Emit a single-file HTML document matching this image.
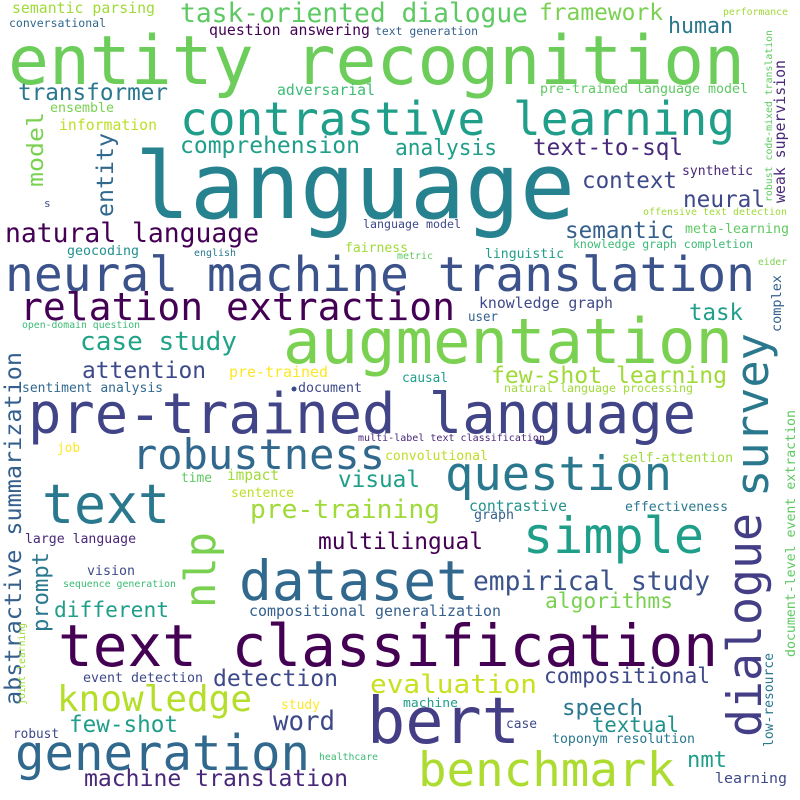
<!DOCTYPE html>
<html><head><meta charset="utf-8"><style>
html,body{margin:0;padding:0;background:#fff;}
svg{display:block;}
text{font-family:"DejaVu Sans Mono","Liberation Mono",monospace;}
</style></head><body>
<svg width="800" height="800" viewBox="0 0 800 800" xmlns="http://www.w3.org/2000/svg">
<rect width="800" height="800" fill="#fff"/>
<g lengthAdjust="spacingAndGlyphs">
<text x="12" y="13" font-size="15" fill="#a0da39" textLength="143" lengthAdjust="spacingAndGlyphs">semantic parsing</text>
<text x="9" y="27" font-size="11.5" fill="#31688e" textLength="97" lengthAdjust="spacingAndGlyphs">conversational</text>
<text x="180" y="22" font-size="26.5" fill="#5ec962" textLength="348" lengthAdjust="spacingAndGlyphs">task-oriented dialogue</text>
<text x="539" y="20" font-size="23" fill="#7ad151" textLength="124" lengthAdjust="spacingAndGlyphs">framework</text>
<text x="723" y="15" font-size="10" fill="#a0da39" textLength="65" lengthAdjust="spacingAndGlyphs">performance</text>
<text x="209" y="35" font-size="15" fill="#440154" textLength="161" lengthAdjust="spacingAndGlyphs">question answering</text>
<text x="375" y="35" font-size="11.5" fill="#35608d" textLength="103" lengthAdjust="spacingAndGlyphs">text generation</text>
<text x="668" y="33" font-size="22" fill="#2a788e" textLength="65" lengthAdjust="spacingAndGlyphs">human</text>
<text x="8" y="84" font-size="68" fill="#6ccd5a" textLength="737" lengthAdjust="spacingAndGlyphs">entity recognition</text>
<text x="540" y="93" font-size="13.5" fill="#5ec962" textLength="208" lengthAdjust="spacingAndGlyphs">pre-trained language model</text>
<text x="277" y="95" font-size="15" fill="#3cbb75" textLength="98" lengthAdjust="spacingAndGlyphs">adversarial</text>
<text x="18" y="100" font-size="23" fill="#2a788e" textLength="150" lengthAdjust="spacingAndGlyphs">transformer</text>
<text x="50" y="112" font-size="13" fill="#7ad151" textLength="64" lengthAdjust="spacingAndGlyphs">ensemble</text>
<text x="59" y="130" font-size="15" fill="#bddf26" textLength="98" lengthAdjust="spacingAndGlyphs">information</text>
<text x="180" y="135" font-size="46" fill="#1f9e89" textLength="555" lengthAdjust="spacingAndGlyphs">contrastive learning</text>
<text x="180" y="153" font-size="23" fill="#1f9e89" textLength="180" lengthAdjust="spacingAndGlyphs">comprehension</text>
<text x="395" y="155" font-size="22" fill="#1f9e89" textLength="102" lengthAdjust="spacingAndGlyphs">analysis</text>
<text x="533" y="155" font-size="23" fill="#482878" textLength="150" lengthAdjust="spacingAndGlyphs">text-to-sql</text>
<text x="682" y="175" font-size="13" fill="#482878" textLength="71" lengthAdjust="spacingAndGlyphs">synthetic</text>
<text x="582" y="188" font-size="23" fill="#3e4989" textLength="95" lengthAdjust="spacingAndGlyphs">context</text>
<text x="683" y="207" font-size="23" fill="#3e4989" textLength="82" lengthAdjust="spacingAndGlyphs">neural</text>
<text x="44" y="207" font-size="11" fill="#3e4989">s</text>
<text x="135" y="218" font-size="92" fill="#26828e" textLength="440" lengthAdjust="spacingAndGlyphs">language</text>
<text x="643" y="215" font-size="10" fill="#a0da39" textLength="144" lengthAdjust="spacingAndGlyphs">offensive text detection</text>
<text x="363" y="228" font-size="11.3" fill="#3e4989" textLength="98" lengthAdjust="spacingAndGlyphs">language model</text>
<text x="685" y="233" font-size="13.5" fill="#5ec962" textLength="104" lengthAdjust="spacingAndGlyphs">meta-learning</text>
<text x="565" y="238" font-size="23" fill="#35608d" textLength="109" lengthAdjust="spacingAndGlyphs">semantic</text>
<text x="5" y="242" font-size="26.5" fill="#440154" textLength="254" lengthAdjust="spacingAndGlyphs">natural language</text>
<text x="573" y="248" font-size="11.7" fill="#3cbb75" textLength="180" lengthAdjust="spacingAndGlyphs">knowledge graph completion</text>
<text x="67" y="255" font-size="13" fill="#21918c" textLength="72" lengthAdjust="spacingAndGlyphs">geocoding</text>
<text x="194" y="256" font-size="9.5" fill="#2a788e" textLength="42" lengthAdjust="spacingAndGlyphs">english</text>
<text x="345" y="252" font-size="13" fill="#a0da39" textLength="63" lengthAdjust="spacingAndGlyphs">fairness</text>
<text x="485" y="258" font-size="13" fill="#1f9e89" textLength="79" lengthAdjust="spacingAndGlyphs">linguistic</text>
<text x="397" y="259" font-size="10" fill="#5ec962" textLength="36" lengthAdjust="spacingAndGlyphs">metric</text>
<text x="758" y="265" font-size="10" fill="#7ad151" textLength="29" lengthAdjust="spacingAndGlyphs">eider</text>
<text x="5" y="291" font-size="48" fill="#3b528b" textLength="750" lengthAdjust="spacingAndGlyphs">neural machine translation</text>
<text x="479" y="308" font-size="15" fill="#3e4989" textLength="134" lengthAdjust="spacingAndGlyphs">knowledge graph</text>
<text x="20" y="320" font-size="38" fill="#440154" textLength="435" lengthAdjust="spacingAndGlyphs">relation extraction</text>
<text x="689" y="320" font-size="23" fill="#1f9e89" textLength="54" lengthAdjust="spacingAndGlyphs">task</text>
<text x="468" y="321" font-size="13" fill="#35608d" textLength="30" lengthAdjust="spacingAndGlyphs">user</text>
<text x="22" y="328" font-size="10" fill="#3cbb75" textLength="118" lengthAdjust="spacingAndGlyphs">open-domain question</text>
<text x="80" y="350" font-size="26" fill="#20a386" textLength="157" lengthAdjust="spacingAndGlyphs">case study</text>
<text x="283" y="363" font-size="62" fill="#7ad151" textLength="450" lengthAdjust="spacingAndGlyphs">augmentation</text>
<text x="82" y="378" font-size="23" fill="#3e4989" textLength="124" lengthAdjust="spacingAndGlyphs">attention</text>
<text x="229" y="377" font-size="15" fill="#fde725" textLength="99" lengthAdjust="spacingAndGlyphs">pre-trained</text>
<text x="402" y="382" font-size="13" fill="#1f9e89" textLength="46" lengthAdjust="spacingAndGlyphs">causal</text>
<text x="491" y="383" font-size="23" fill="#a0da39" textLength="236" lengthAdjust="spacingAndGlyphs">few-shot learning</text>
<text x="22" y="392" font-size="13" fill="#31688e" textLength="141" lengthAdjust="spacingAndGlyphs">sentiment analysis</text>
<circle cx="294" cy="389" r="2.5" fill="#3e4989"/>
<text x="298" y="392" font-size="13" fill="#3e4989" textLength="64" lengthAdjust="spacingAndGlyphs">document</text>
<text x="504" y="392" font-size="11.5" fill="#a0da39" textLength="189" lengthAdjust="spacingAndGlyphs">natural language processing</text>
<text x="28" y="433" font-size="56" fill="#414487" textLength="668" lengthAdjust="spacingAndGlyphs">pre-trained language</text>
<text x="358" y="441" font-size="10" fill="#482878" textLength="187" lengthAdjust="spacingAndGlyphs">multi-label text classification</text>
<text x="57" y="452" font-size="13" fill="#fde725" textLength="23" lengthAdjust="spacingAndGlyphs">job</text>
<text x="385" y="460" font-size="13.2" fill="#bddf26" textLength="103" lengthAdjust="spacingAndGlyphs">convolutional</text>
<text x="622" y="462" font-size="13.2" fill="#a0da39" textLength="111" lengthAdjust="spacingAndGlyphs">self-attention</text>
<text x="132" y="469" font-size="42" fill="#31688e" textLength="253" lengthAdjust="spacingAndGlyphs">robustness</text>
<text x="181" y="482" font-size="13" fill="#5ec962" textLength="31" lengthAdjust="spacingAndGlyphs">time</text>
<text x="227" y="480" font-size="14.7" fill="#a0da39" textLength="52" lengthAdjust="spacingAndGlyphs">impact</text>
<text x="338" y="487" font-size="23" fill="#1f9e89" textLength="82" lengthAdjust="spacingAndGlyphs">visual</text>
<text x="445" y="490" font-size="47" fill="#2a788e" textLength="227" lengthAdjust="spacingAndGlyphs">question</text>
<text x="231" y="497" font-size="13" fill="#bddf26" textLength="63" lengthAdjust="spacingAndGlyphs">sentence</text>
<text x="469" y="511" font-size="14.7" fill="#21918c" textLength="98" lengthAdjust="spacingAndGlyphs">contrastive</text>
<text x="625" y="511" font-size="13.2" fill="#2a788e" textLength="103" lengthAdjust="spacingAndGlyphs">effectiveness</text>
<text x="474" y="519" font-size="13" fill="#35608d" textLength="40" lengthAdjust="spacingAndGlyphs">graph</text>
<text x="250" y="518" font-size="26" fill="#a0da39" textLength="190" lengthAdjust="spacingAndGlyphs">pre-training</text>
<text x="42" y="523" font-size="54" fill="#2a788e" textLength="128" lengthAdjust="spacingAndGlyphs">text</text>
<text x="25" y="543" font-size="13.2" fill="#482878" textLength="111" lengthAdjust="spacingAndGlyphs">large language</text>
<text x="318" y="549" font-size="23" fill="#440154" textLength="165" lengthAdjust="spacingAndGlyphs">multilingual</text>
<text x="523" y="553" font-size="50" fill="#1f9e89" textLength="181" lengthAdjust="spacingAndGlyphs">simple</text>
<text x="87" y="575" font-size="13" fill="#3e4989" textLength="48" lengthAdjust="spacingAndGlyphs">vision</text>
<text x="63" y="587" font-size="10" fill="#3cbb75" textLength="113" lengthAdjust="spacingAndGlyphs">sequence generation</text>
<text x="473" y="590" font-size="26.4" fill="#3b528b" textLength="237" lengthAdjust="spacingAndGlyphs">empirical study</text>
<text x="239" y="600" font-size="55" fill="#31688e" textLength="230" lengthAdjust="spacingAndGlyphs">dataset</text>
<text x="545" y="608" font-size="21.5" fill="#7ad151" textLength="128" lengthAdjust="spacingAndGlyphs">algorithms</text>
<text x="54" y="617" font-size="21.5" fill="#1f9e89" textLength="115" lengthAdjust="spacingAndGlyphs">different</text>
<text x="249" y="616" font-size="15" fill="#35608d" textLength="252" lengthAdjust="spacingAndGlyphs">compositional generalization</text>
<text x="58" y="666" font-size="58" fill="#440154" textLength="660" lengthAdjust="spacingAndGlyphs">text classification</text>
<text x="83" y="682" font-size="13" fill="#3e4989" textLength="120" lengthAdjust="spacingAndGlyphs">event detection</text>
<text x="213" y="686" font-size="23" fill="#3e4989" textLength="125" lengthAdjust="spacingAndGlyphs">detection</text>
<text x="544" y="683" font-size="21.5" fill="#3e4989" textLength="166" lengthAdjust="spacingAndGlyphs">compositional</text>
<text x="370" y="693" font-size="26" fill="#c8e020" textLength="167" lengthAdjust="spacingAndGlyphs">evaluation</text>
<text x="403" y="707" font-size="12.8" fill="#1f9e89" textLength="55" lengthAdjust="spacingAndGlyphs">machine</text>
<text x="281" y="709" font-size="13" fill="#fde725" textLength="39" lengthAdjust="spacingAndGlyphs">study</text>
<text x="57" y="711" font-size="35.5" fill="#b5de2b" textLength="195" lengthAdjust="spacingAndGlyphs">knowledge</text>
<text x="562" y="715" font-size="22.5" fill="#2a788e" textLength="81" lengthAdjust="spacingAndGlyphs">speech</text>
<text x="506" y="728" font-size="13" fill="#3e4989" textLength="31" lengthAdjust="spacingAndGlyphs">case</text>
<text x="273" y="730" font-size="26.7" fill="#3e4989" textLength="62" lengthAdjust="spacingAndGlyphs">word</text>
<text x="69" y="732" font-size="23.3" fill="#1f9e89" textLength="109" lengthAdjust="spacingAndGlyphs">few-shot</text>
<text x="592" y="732" font-size="21.5" fill="#21918c" textLength="87" lengthAdjust="spacingAndGlyphs">textual</text>
<text x="367" y="743" font-size="64" fill="#433e85" textLength="153" lengthAdjust="spacingAndGlyphs">bert</text>
<text x="13" y="738" font-size="13" fill="#3e4989" textLength="46" lengthAdjust="spacingAndGlyphs">robust</text>
<text x="552" y="743" font-size="13.2" fill="#2a788e" textLength="143" lengthAdjust="spacingAndGlyphs">toponym resolution</text>
<text x="319" y="760" font-size="9.8" fill="#3cbb75" textLength="59" lengthAdjust="spacingAndGlyphs">healthcare</text>
<text x="15" y="770" font-size="49" fill="#31688e" textLength="295" lengthAdjust="spacingAndGlyphs">generation</text>
<text x="687" y="767" font-size="22" fill="#1f9e89" textLength="40" lengthAdjust="spacingAndGlyphs">nmt</text>
<text x="715" y="783" font-size="14.6" fill="#3e4989" textLength="72" lengthAdjust="spacingAndGlyphs">learning</text>
<text x="84" y="786" font-size="23" fill="#482878" textLength="264" lengthAdjust="spacingAndGlyphs">machine translation</text>
<text x="418" y="786" font-size="47.6" fill="#addc30" textLength="257" lengthAdjust="spacingAndGlyphs">benchmark</text>

<!-- vertical -->
<text transform="translate(43,187) rotate(-90)" font-size="22" fill="#7ad151" textLength="75" lengthAdjust="spacingAndGlyphs">model</text>
<text transform="translate(113,217) rotate(-90)" font-size="23" fill="#31688e" textLength="84" lengthAdjust="spacingAndGlyphs">entity</text>
<text transform="translate(21,705) rotate(-90)" font-size="23.5" fill="#35608d" textLength="353" lengthAdjust="spacingAndGlyphs">abstractive summarization</text>
<text transform="translate(48,632) rotate(-90)" font-size="22" fill="#2a788e" textLength="80" lengthAdjust="spacingAndGlyphs">prompt</text>
<text transform="translate(25,705) rotate(-90)" font-size="10" fill="#a0da39" textLength="82" lengthAdjust="spacingAndGlyphs">joint learning</text>
<text transform="translate(215,608) rotate(-90)" font-size="43" fill="#7ad151" textLength="76" lengthAdjust="spacingAndGlyphs">nlp</text>
<text transform="translate(768,497) rotate(-90)" font-size="45" fill="#2a788e" textLength="164" lengthAdjust="spacingAndGlyphs">survey</text>
<text transform="translate(761,737) rotate(-90)" font-size="47" fill="#433e85" textLength="224" lengthAdjust="spacingAndGlyphs">dialogue</text>
<text transform="translate(785,203) rotate(-90)" font-size="15" fill="#482878" textLength="143" lengthAdjust="spacingAndGlyphs">weak supervision</text>
<text transform="translate(772,202) rotate(-90)" font-size="10" fill="#5ec962" textLength="172" lengthAdjust="spacingAndGlyphs">robust code-mixed translation</text>
<text transform="translate(781,332) rotate(-90)" font-size="13.5" fill="#35608d" textLength="57" lengthAdjust="spacingAndGlyphs">complex</text>
<text transform="translate(773,747) rotate(-90)" font-size="13" fill="#2a788e" textLength="94" lengthAdjust="spacingAndGlyphs">low-resource</text>
<text transform="translate(795,657) rotate(-90)" font-size="13.3" fill="#5ec962" textLength="247" lengthAdjust="spacingAndGlyphs">document-level event extraction</text>
</g>
</svg>
</body></html>
